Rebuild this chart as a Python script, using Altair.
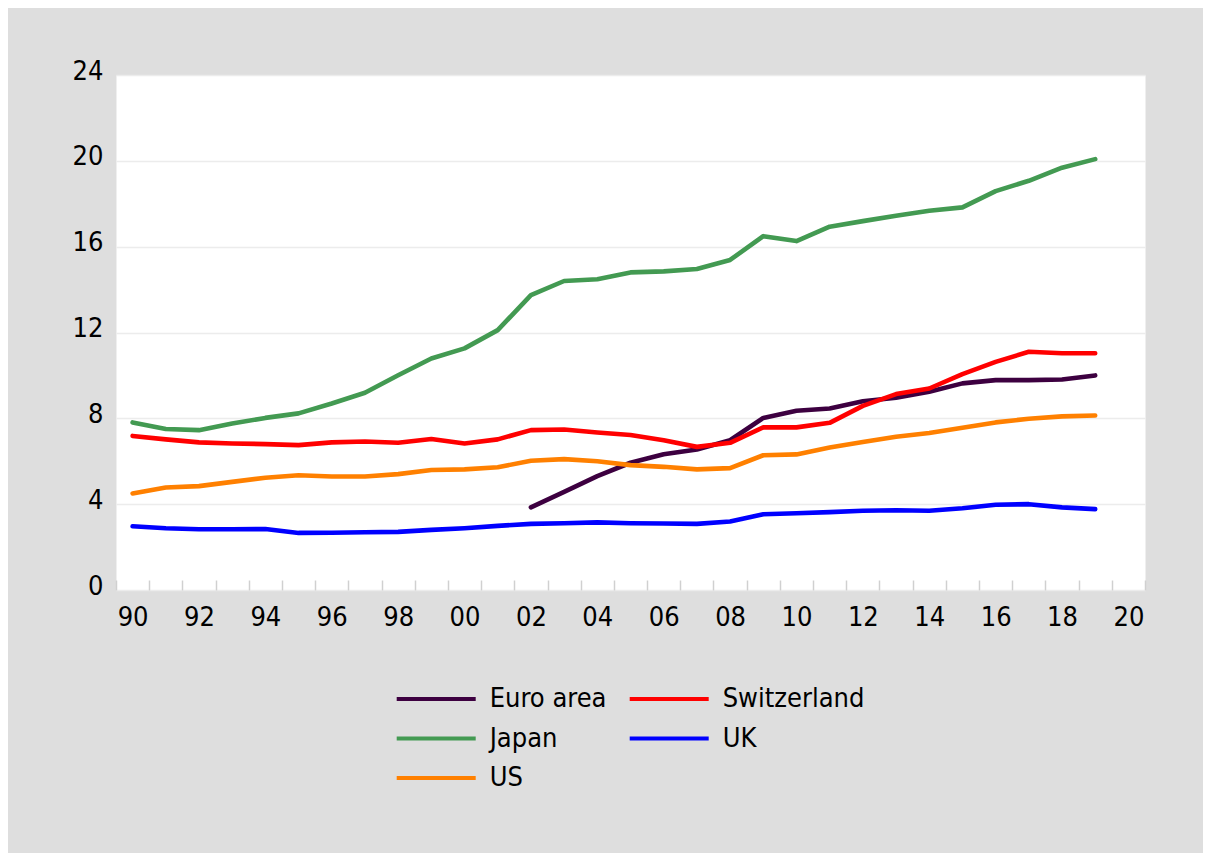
import altair as alt
import pandas as pd

YEARS = list(range(1990, 2020))

EURO_YEARS = list(range(2002, 2020))
EURO = [3.85, 4.57, 5.31, 5.93, 6.33, 6.55, 6.98, 8.02, 8.35, 8.46,
        8.80, 8.96, 9.24, 9.63, 9.78, 9.78, 9.81, 10.00]

JAPAN = [7.81, 7.50, 7.45, 7.76, 8.02, 8.23, 8.69, 9.19, 10.01, 10.79,
         11.26, 12.11, 13.74, 14.40, 14.48, 14.80, 14.85, 14.96, 15.38, 16.49,
         16.26, 16.93, 17.19, 17.44, 17.67, 17.83, 18.59, 19.07, 19.68, 20.08]

SWITZERLAND = [7.18, 7.02, 6.88, 6.83, 6.80, 6.75, 6.88, 6.92, 6.86, 7.04,
               6.83, 7.02, 7.45, 7.48, 7.34, 7.22, 6.98, 6.67, 6.86, 7.58,
               7.58, 7.79, 8.58, 9.13, 9.39, 10.06, 10.63, 11.10, 11.03, 11.03]

US = [4.50, 4.78, 4.84, 5.04, 5.23, 5.35, 5.29, 5.29, 5.40, 5.59,
      5.62, 5.72, 6.02, 6.10, 6.00, 5.82, 5.74, 5.62, 5.68, 6.28,
      6.32, 6.64, 6.90, 7.14, 7.32, 7.56, 7.81, 7.98, 8.09, 8.13]

UK = [2.97, 2.88, 2.83, 2.83, 2.84, 2.66, 2.67, 2.69, 2.71, 2.80,
      2.88, 2.99, 3.08, 3.11, 3.15, 3.11, 3.10, 3.08, 3.19, 3.53,
      3.58, 3.63, 3.69, 3.72, 3.69, 3.81, 3.97, 4.00, 3.85, 3.77]

# legend order (first column: Euro area, Japan, US; second: Switzerland, UK)
SERIES = ["Euro area", "Japan", "US", "Switzerland", "UK"]
COLORS = ["#3D0040", "#439A52", "#FF8000", "#FF0000", "#0000FF"]

Y_TICKS = [0, 4, 8, 12, 16, 20, 24]
X_TICK_BOUNDS = [1989.5 + k for k in range(32)]

rows = []
for yr, v in zip(EURO_YEARS, EURO):
    rows.append({"year": yr, "value": v, "series": "Euro area"})
for name, vals in [("Switzerland", SWITZERLAND), ("Japan", JAPAN), ("UK", UK), ("US", US)]:
    for yr, v in zip(YEARS, vals):
        rows.append({"year": yr, "value": v, "series": name})
df = pd.DataFrame(rows)

FONT = "DejaVu Sans Condensed, Liberation Sans, sans-serif"

chart = alt.Chart(df).mark_line(strokeWidth=4.6, strokeCap="round", strokeJoin="round").encode(
    x=alt.X("year:Q",
            scale=alt.Scale(domain=[1989.5, 2020.5], nice=False, zero=False),
            axis=alt.Axis(values=X_TICK_BOUNDS,
                          labelExpr="(datum.value + 0.5) % 2 == 0 ? substring(toString(datum.value + 0.5), 2) : ''",
                          labelOffset=16.6, labelFlush=False, labelOverlap=False,
                          tickColor="#D0D0D0", tickSize=10, tickWidth=1.5,
                          offset=-10, domain=False, grid=False, labelPadding=14,
                          title=None, labelFontSize=27, labelFont=FONT, labelColor="black")),
    y=alt.Y("value:Q",
            scale=alt.Scale(domain=[0, 24], nice=False),
            axis=alt.Axis(values=Y_TICKS, grid=True, gridColor="#ECECEC", gridWidth=1.5,
                          domain=False, ticks=False, labelPadding=13, labelOffset=-4,
                          title=None, labelFontSize=27, labelFont=FONT, labelColor="black")),
    color=alt.Color("series:N",
                    scale=alt.Scale(domain=SERIES, range=COLORS),
                    legend=alt.Legend(orient="none", legendX=278.7, legendY=609, columns=2,
                                      symbolType="stroke", symbolSize=6241, symbolStrokeWidth=4,
                                      labelOffset=12, columnPadding=21, rowPadding=9.5,
                                      clipHeight=30, title=None, padding=0,
                                      labelFontSize=27, labelFont=FONT, labelColor="black")),
    order=alt.Order("year:Q"),
).properties(
    width=1029, height=515,
    autosize=alt.AutoSizeParams(type="none"),
    padding={"left": 108, "top": 67, "right": 58, "bottom": 263},
    background="#DEDEDE",
).configure_view(fill="white", stroke="transparent")

chart.save("out.html", embed_options={"renderer": "svg", "actions": False})
